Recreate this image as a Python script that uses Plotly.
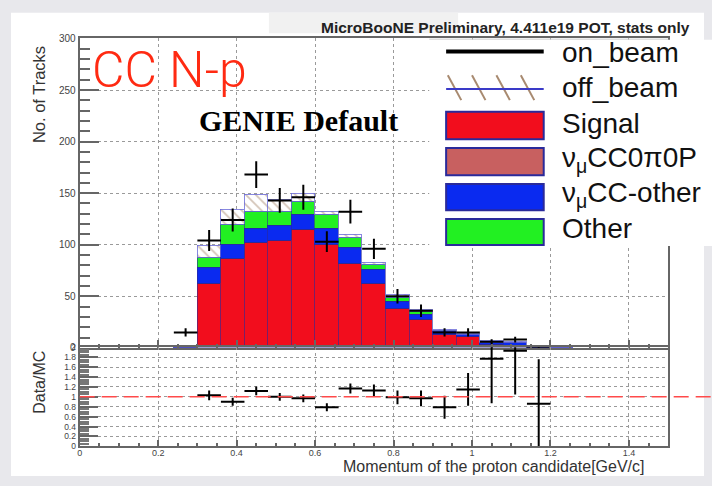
import plotly.graph_objects as go

# ---------------- data ----------------
bin_width = 0.06
centers = [0.27, 0.33, 0.39, 0.45, 0.51, 0.57, 0.63, 0.69, 0.75, 0.81, 0.87,
           0.93, 0.99, 1.05, 1.11, 1.17, 1.23]
signal = [0, 62.6, 86.6, 102, 104.5, 114.7, 99.8, 81.8, 62.6, 38.3, 27.2,
          13, 10.6, 3, 2.5, 0.6, 0.3]
cc0pi0p = [0] * 17
cc_other = [0, 15.2, 13.9, 14.2, 14.2, 14.4, 16.4, 15.5, 13.6, 6.9, 4.8,
            3.3, 1.9, 2.2, 2.7, 0.3, 0]
other = [0, 9.4, 19.2, 16.1, 13.6, 13.3, 12.7, 9.4, 4.7, 3.5, 3.2,
         0.5, 0.4, 0.3, 0.3, 0, 0]
off_beam = [2.5, 11.7, 14.8, 16.4, 11.7, 6.9, 3.1, 3.5, 1.6, 2.9, 2.2,
            0.7, 0.8, 1.3, 1.0, 0.2, 0.2]

data_x = [0.27, 0.33, 0.39, 0.45, 0.51, 0.57, 0.63, 0.69, 0.75, 0.81, 0.87,
          0.93, 0.99, 1.05, 1.11, 1.17]
on_beam = [15, 104, 124, 168, 143, 146, 103, 132, 96, 50, 36, 15, 15, 6, 8, 1]
on_beam_err = [3.9, 10.2, 11.1, 13, 12, 12.1, 10.1, 11.5, 9.8, 7.1, 6, 3.9, 3.9, 2.4, 2.8, 1]

ratio_x = [0.33, 0.39, 0.45, 0.51, 0.57, 0.63, 0.69, 0.75, 0.81, 0.87, 0.93,
           0.99, 1.05, 1.11, 1.17]
ratio = [1.03, 0.90, 1.12, 1.00, 0.97, 0.79, 1.17, 1.13, 0.99, 0.97, 0.79,
         1.15, 1.77, 1.93, 0.86]
ratio_err = [0.10, 0.08, 0.09, 0.08, 0.08, 0.08, 0.10, 0.12, 0.14, 0.16, 0.23,
             0.33, 0.90, 0.88, 0.90]

x_ticks = [0, 0.2, 0.4, 0.6, 0.8, 1.0, 1.2, 1.4]
x_ticklabels = ["0", "0.2", "0.4", "0.6", "0.8", "1", "1.2", "1.4"]
r_ticks = [0, 0.2, 0.4, 0.6, 0.8, 1.0, 1.2, 1.4, 1.6, 1.8, 2.0]
r_ticklabels = ["0", "0.2", "0.4", "0.6", "0.8", "1", "1.2", "1.4", "1.6", "1.8", "2"]

# ---------------- styling ----------------
W, H = 712, 486
def px(x): return x / W
def py(y): return 1 - y / H

SANS = "Liberation Sans, Arial, Helvetica, sans-serif"
EDGE = "#2a2a9a"
C_SIG = "#f20d1d"
C_CC0 = "#c86060"
C_CCO = "#0a2af0"
C_OTH = "#22f022"
C_HATCH = "#a88a70"

fig = go.Figure()

def bar(y, color, name):
    return go.Bar(x=centers, y=y, width=bin_width, name=name, xaxis="x", yaxis="y",
                  marker=dict(color=color, line=dict(color=EDGE, width=0.6)),
                  showlegend=False)

fig.add_trace(bar(signal, C_SIG, "Signal"))
fig.add_trace(bar(cc0pi0p, C_CC0, "νμCC0π0P"))
fig.add_trace(bar(cc_other, C_CCO, "νμCC-other"))
fig.add_trace(bar(other, C_OTH, "Other"))
fig.add_trace(go.Bar(x=centers, y=off_beam, width=bin_width, name="off_beam",
                     xaxis="x", yaxis="y", showlegend=False,
                     marker=dict(color="white",
                                 pattern=dict(shape="\\", fgcolor=C_HATCH, bgcolor="white",
                                              size=7, solidity=0.25),
                                 line=dict(color="#6a6ad8", width=0.8))))

fig.add_trace(go.Scatter(x=data_x, y=on_beam, mode="markers", name="on_beam",
                         xaxis="x", yaxis="y", showlegend=False,
                         marker=dict(size=2, color="black"),
                         error_x=dict(type="constant", value=bin_width / 2, width=0,
                                      thickness=2, color="black"),
                         error_y=dict(type="data", array=on_beam_err, width=0,
                                      thickness=2, color="black")))

fig.add_trace(go.Scatter(x=ratio_x, y=ratio, mode="markers", name="Data/MC",
                         xaxis="x2", yaxis="y2", showlegend=False,
                         marker=dict(size=2, color="black"),
                         error_x=dict(type="constant", value=bin_width / 2, width=0,
                                      thickness=2, color="black"),
                         error_y=dict(type="data", array=ratio_err, width=0,
                                      thickness=2, color="black")))

XD = [px(77), px(668)]
axis_common = dict(showline=True, mirror=True, linecolor="#666", linewidth=2,
                   ticks="inside", tickcolor="#666", tickwidth=2,
                   showgrid=True, gridcolor="#9a9a9a", griddash="dot", gridwidth=1,
                   zeroline=False)

fig.update_layout(
    width=W, height=H, margin=dict(l=0, r=0, t=0, b=0),
    paper_bgcolor="#e8e8ec", plot_bgcolor="rgba(0,0,0,0)",
    barmode="stack", bargap=0,
    xaxis=dict(domain=XD, range=[0, 1.5], anchor="y", showticklabels=False,
               tick0=0, dtick=0.2, ticklen=8,
               minor=dict(ticks="inside", dtick=0.05, ticklen=4, tickcolor="#666",
                          showgrid=False),
               **axis_common),
    yaxis=dict(domain=[py(350.5), py(33.3)], range=[0, 300], anchor="x",
               tick0=0, dtick=50, ticklen=19,
               tickfont=dict(family=SANS, size=10, color="#444"),
               minor=dict(ticks="inside", dtick=10, ticklen=10, tickcolor="#666",
                          showgrid=False),
               **axis_common),
    xaxis2=dict(domain=XD, range=[0, 1.5], anchor="y2",
                tickvals=x_ticks, ticktext=x_ticklabels, ticklen=6,
                ticklabelstandoff=-3,
                tickfont=dict(family=SANS, size=9, color="#444"),
                minor=dict(ticks="inside", dtick=0.05, ticklen=3, tickcolor="#666",
                           showgrid=False),
                **axis_common),
    yaxis2=dict(domain=[py(451.5), py(350)], range=[0, 2], anchor="x2",
                tickvals=r_ticks, ticktext=r_ticklabels, ticklen=18,
                tickfont=dict(family=SANS, size=8.5, color="#444"),
                minor=dict(ticks="inside", dtick=0.05, ticklen=9, tickcolor="#777",
                           showgrid=False),
                **axis_common),
)

shapes = []
# slide page (white) and title box
shapes.append(dict(type="rect", xref="paper", yref="paper", layer="below",
                   x0=px(8), x1=px(704), y0=py(482), y1=py(7),
                   fillcolor="white", line=dict(width=0)))
shapes.append(dict(type="rect", xref="paper", yref="paper", layer="below",
                   x0=px(267), x1=px(457), y0=py(28), y1=py(7),
                   fillcolor="#f1f1f1", line=dict(width=0)))
# ratio reference line
shapes.append(dict(type="line", xref="paper", yref="y2", x0=px(77), x1=px(712),
                   y0=1, y1=1, line=dict(color="#ff4a4a", width=1.5, dash="15px,7px")))
# legend box
shapes.append(dict(type="rect", xref="paper", yref="paper", layer="above",
                   x0=px(428), x1=px(712), y0=py(246), y1=py(34.5),
                   fillcolor="white", line=dict(width=0)))
shapes.append(dict(type="line", xref="paper", yref="paper", layer="above",
                   x0=px(428), x1=px(668), y0=py(34), y1=py(34),
                   line=dict(color="#d0d0d0", width=1)))
LX0, LX1 = 445, 543
# on_beam
shapes.append(dict(type="line", xref="paper", yref="paper", layer="above",
                   x0=px(LX0), x1=px(LX1), y0=py(46.7), y1=py(46.7),
                   line=dict(color="black", width=4)))
# off_beam hatch + line
for hx in [446.7, 471, 495.5, 520]:
    shapes.append(dict(type="line", xref="paper", yref="paper", layer="above",
                       x0=px(hx), x1=px(hx + 13.5), y0=py(71), y1=py(96.5),
                       line=dict(color=C_HATCH, width=2)))
shapes.append(dict(type="line", xref="paper", yref="paper", layer="above",
                   x0=px(LX0), x1=px(LX1), y0=py(85), y1=py(85),
                   line=dict(color="#3a3ac8", width=2)))
for (t, b, col) in [(108.5, 136.5, C_SIG), (145.5, 173.5, C_CC0),
                    (182.5, 209.5, C_CCO), (218.5, 245, C_OTH)]:
    shapes.append(dict(type="rect", xref="paper", yref="paper", layer="above",
                       x0=px(LX0), x1=px(LX1), y0=py(b), y1=py(t),
                       fillcolor=col, line=dict(color=EDGE, width=2)))
fig.update_layout(shapes=shapes)

ann = []
def text(x, y, s, size, color="black", family=SANS, xanchor="left", yanchor="middle",
         angle=0, weight=None):
    f = dict(family=family, size=size, color=color)
    if weight:
        f["weight"] = weight
    ann.append(dict(xref="paper", yref="paper", x=px(x), y=py(y), text=s,
                    showarrow=False, xanchor=xanchor, yanchor=yanchor,
                    textangle=angle, font=f))

for (y, s) in [(48, "on_beam"), (84, "off_beam"), (120, "Signal"),
               (157, "ν<sub>μ</sub>CC0π0P"), (193, "ν<sub>μ</sub>CC-other"), (228, "Other")]:
    text(559, y, s, 28, color="#111")

text(505, 22, "MicroBooNE Preliminary, 4.411e19 POT, stats only", 15.5,
     color="#222", xanchor="center", weight="bold")
text(167, 66, "CC N-p", 50, color="#ff2a12",
     family="Roboto, sans-serif", xanchor="center", weight=300)
text(297, 117, "GENIE Default", 30, family="Liberation Serif, Times New Roman, serif",
     xanchor="center", weight="bold")
text(35.5, 91, "No. of Tracks", 16.5, color="#333", xanchor="center", angle=-90)
text(36.5, 386, "Data/MC", 16, color="#333", xanchor="center", angle=-90)
text(647, 472, "Momentum of the proton candidate[GeV/c]", 16, color="#333",
     xanchor="right")
fig.update_layout(annotations=ann)

fig.write_html("out.html")
